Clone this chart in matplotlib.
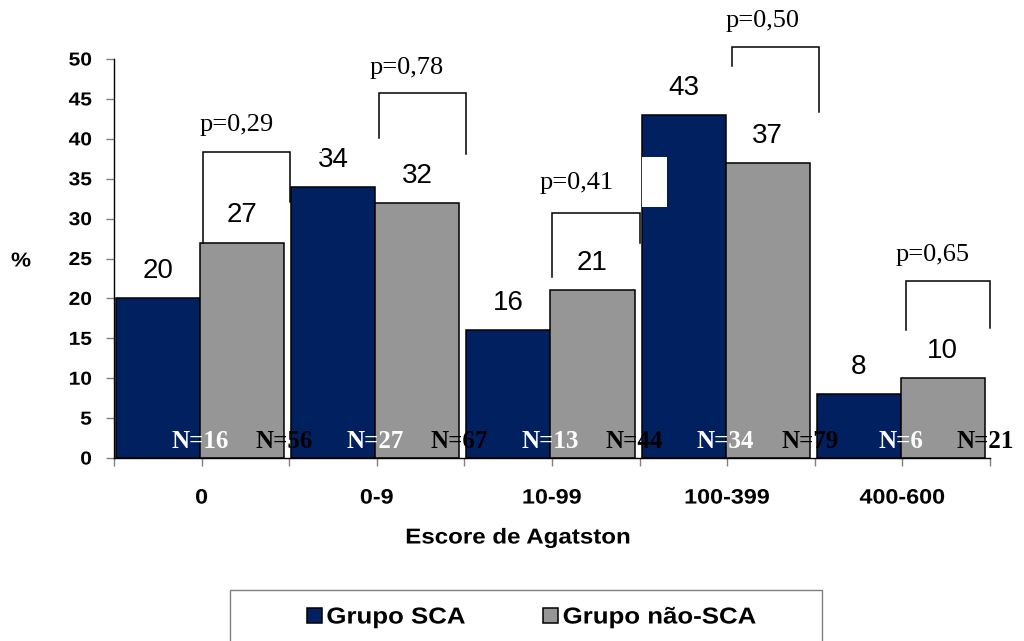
import matplotlib
matplotlib.use("Agg")
import matplotlib.pyplot as plt
from matplotlib.patches import Rectangle
from matplotlib.patheffects import AbstractPathEffect
from matplotlib.transforms import Affine2D
import numpy as np

# ---- data ----
categories = ["0", "0-9", "10-99", "100-399", "400-600"]
sca = [20, 34, 16, 43, 8]
nao_sca = [27, 32, 21, 37, 10]
n_sca = [16, 27, 13, 34, 6]
n_nao_sca = [56, 67, 44, 79, 21]
p_values = ["0,29", "0,78", "0,41", "0,50", "0,65"]
series_names = ["Grupo SCA", "Grupo não-SCA"]

# ---- layout of the significance brackets (per category) ----
# (left x offset, right x offset, top y, left leg end y, right leg end y)
brackets = [
    (0.01, 0.505, 38.3, 27.0, 32.1),
    (0.01, 0.51, 45.8, 40.1, 38.1),
    (0.00, 0.50, 30.7, 22.7, 26.9),
    (0.03, 0.525, 51.5, 49.1, 43.4),
    (0.02, 0.50, 22.2, 16.0, 16.3),
]
p_label_pos = [(0.20, 41.7), (1.17, 48.9), (2.14, 34.5), (3.20, 54.7), (4.17, 25.4)]

SANS = "Liberation Sans"
SERIF = "Liberation Serif"
NAVY = "#002060"
GREY = "#969696"
WIDE = 1.12  # horizontal widening of the bold sans captions


class HStretch(AbstractPathEffect):
    """Widen text glyphs horizontally about a chosen anchor."""

    def __init__(self, sx, anchor="center"):
        super().__init__()
        self.sx = sx
        self.anchor = anchor

    def draw_path(self, renderer, gc, tpath, affine, rgbFace=None):
        ext = tpath.get_extents()
        x0 = {"left": ext.x0, "right": ext.x1,
              "center": 0.5 * (ext.x0 + ext.x1)}[self.anchor]
        pre = Affine2D().translate(-x0, 0).scale(self.sx, 1).translate(x0, 0)
        renderer.draw_path(gc, tpath, pre + affine, rgbFace)


fig = plt.figure(figsize=(10.24, 6.41), dpi=100)
ax = fig.add_axes([114 / 1024, 1 - 458 / 641, 876 / 1024, 399 / 641])

x = np.arange(len(categories))
width = 0.48
b1 = ax.bar(x - 0.249, sca, width, color=NAVY, edgecolor="black",
            linewidth=1.1, zorder=2, label=series_names[0])
b2 = ax.bar(x + 0.231, nao_sca, width, color=GREY, edgecolor="black",
            linewidth=1.1, zorder=2, label=series_names[1])

ax.set_xlim(-0.5, 4.5)
ax.set_ylim(0, 50)

# axes styling
for s in ("top", "right"):
    ax.spines[s].set_visible(False)
for s in ("left", "bottom"):
    ax.spines[s].set_color("black")
    ax.spines[s].set_linewidth(1.0)

ax.set_yticks(np.arange(0, 51, 5))
ax.set_yticklabels([str(v) for v in range(0, 51, 5)],
                   fontfamily=SANS, fontweight="bold", fontsize=13.5)
ax.tick_params(axis="y", direction="out", length=6, width=1,
               color="#808080", pad=10)

ax.set_xticks(x)
ax.set_xticks(np.arange(-0.5, 5.0, 1.0), minor=True)
ax.set_xticklabels(categories, fontfamily=SANS, fontweight="bold", fontsize=15)
ax.tick_params(axis="x", which="both", direction="out", length=6, width=1,
               color="#808080")
ax.tick_params(axis="x", which="major", pad=16)

for lab in ax.get_yticklabels():
    lab.set_path_effects([HStretch(WIDE, "right")])
for lab in ax.get_xticklabels():
    lab.set_path_effects([HStretch(WIDE, "center")])

# value labels above bars
for bars, vals in ((b1, sca), (b2, nao_sca)):
    for rect, v in zip(bars, vals):
        xc = rect.get_x() + rect.get_width() / 2
        ax.annotate(str(v), (xc, v), xytext=(0, 19.5), textcoords="offset points",
                    ha="center", va="center", fontsize=20, fontfamily=SANS,
                    zorder=3, annotation_clip=False)

# sample sizes at the foot of each bar
for bars, ns, col in ((b1, n_sca, "white"), (b2, n_nao_sca, "black")):
    for rect, n in zip(bars, ns):
        xr = rect.get_x() + rect.get_width()
        ax.annotate(f"N={n}", (xr, 0), xytext=(0, 12.2), textcoords="offset points",
                    ha="center", va="center", fontsize=18, fontfamily=SERIF,
                    fontweight="bold", color=col, zorder=3, annotation_clip=False)

# white boxes behind the p-value captions
ax.add_patch(Rectangle((2.511, 31.5), 0.148, 6.26, facecolor="white",
                       edgecolor="none", zorder=4))
ax.add_patch(Rectangle((0.45, 38.4), 0.235, 3.5, facecolor="white",
                       edgecolor="none", zorder=4))

# significance brackets and p-values
for i, (lo, ro, top, lb, rb) in enumerate(brackets):
    xl, xr = x[i] + lo, x[i] + ro
    ax.plot([xl, xl, xr, xr], [lb, top, top, rb], color="black", lw=1.1,
            clip_on=False, zorder=5, solid_joinstyle="miter")
for (px, py), p in zip(p_label_pos, p_values):
    ax.text(px, py, f"p={p}", ha="center", va="center", fontsize=19,
            fontfamily=SERIF, zorder=6, clip_on=False)

# axis titles
fig.text(21 / 1024, 1 - 261 / 641, "%", ha="center", va="center",
         fontsize=14.5, fontweight="bold", fontfamily=SANS,
         path_effects=[HStretch(WIDE, "center")])
fig.text(518 / 1024, 1 - 538 / 641, "Escore de Agatston", ha="center",
         va="center", fontsize=15.5, fontweight="bold", fontfamily=SANS,
         path_effects=[HStretch(WIDE, "center")])

# legend with its frame running off the bottom edge
fig.add_artist(Rectangle((230 / 1024, -0.05), 592 / 1024, (1 - 590 / 641) + 0.05,
                         transform=fig.transFigure, fill=False,
                         edgecolor="#808080", linewidth=1.0))
leg = fig.legend(handles=[b1, b2], labels=series_names, loc="center",
                 bbox_to_anchor=(521 / 1024, 1 - 617 / 641), ncol=2, frameon=False,
                 prop={"family": SANS, "weight": "bold", "size": 16.6},
                 handlelength=0.65, handleheight=0.61, handletextpad=0.19,
                 columnspacing=4.04, borderpad=0)
for t in leg.get_texts():
    t.set_path_effects([HStretch(WIDE, "left")])

fig.savefig("out.png", dpi=100)
